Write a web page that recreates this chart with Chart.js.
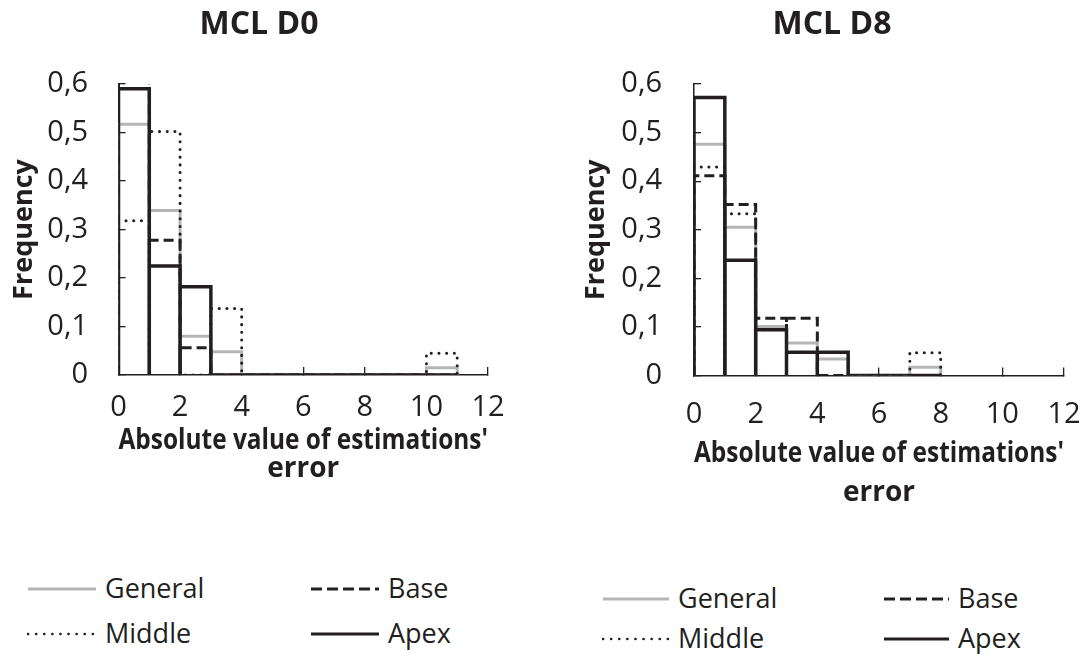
<!DOCTYPE html>
<html>
<head>
<meta charset="utf-8">
<script src="https://cdn.jsdelivr.net/npm/chart.js@4.4.1/dist/chart.umd.min.js"></script>
<style>
  body { margin: 0; background: #fff; font-family: "Open Sans", sans-serif; }
  #page { position: relative; width: 1089px; height: 654px; overflow: hidden; }
  canvas { position: absolute; top: 0; }
  .key { position: absolute; height: 40px; display: flex; align-items: center; font-size: 27px; color: #231f20; white-space: nowrap; }
  .key svg { display: block; }
  .key span { line-height: 27px; position: relative; top: -2px; margin-left: 8px; }
</style>
</head>
<body>
<div id="page">
  <canvas id="d0" width="518" height="483" style="left:0"></canvas>
  <canvas id="d8" width="514" height="512" style="left:575px"></canvas>
</div>
<script>
// ---- data: relative frequency per 1-unit bin of |estimation error| ----
const seriesNames = ['General', 'Base', 'Middle', 'Apex'];

// MCL D0, bins 0..10
const generalD0 = [0.517, 0.339, 0.080, 0.048, 0, 0, 0, 0, 0, 0, 0.015];
const baseD0    = [0.665, 0.278, 0.056, 0,     0, 0, 0, 0, 0, 0, 0];
const middleD0  = [0.318, 0.502, 0,     0.137, 0, 0, 0, 0, 0, 0, 0.045];
const apexD0    = [0.590, 0.225, 0.182, 0,     0, 0, 0, 0, 0, 0, 0];

// MCL D8, bins 0..7
const generalD8 = [0.476, 0.305, 0.101, 0.067, 0.034, 0, 0, 0.017];
const baseD8    = [0.411, 0.352, 0.118, 0.118, 0,     0, 0, 0];
const middleD8  = [0.429, 0.333, 0.094, 0.048, 0.048, 0, 0, 0.047];
const apexD8    = [0.572, 0.237, 0.094, 0.048, 0.048, 0, 0, 0];

const xTitle = ["Absolute value of estimations'", 'error'];
const yTitle = 'Frequency';

const GREY = '#b5b5b5';
const INK = '#231f20';

const seriesStyle = {
  General: { borderColor: GREY, borderWidth: 3, borderDash: [], order: 3, key: '' },
  Base:    { borderColor: INK, borderWidth: 3, borderDash: [10, 5], order: 2, key: '11 5' },
  Middle:  { borderColor: INK, borderWidth: 3, borderDash: [0.1, 7.6], borderCapStyle: 'round', order: 1, key: '0.1 8' },
  Apex:    { borderColor: INK, borderWidth: 3.5, borderDash: [], order: 0, key: '' }
};

// each bin drawn as an outlined bar: up, across, back down to zero
function stepPoints(values) {
  const pts = [];
  values.forEach((v, i) => {
    pts.push({x: i, y: 0}, {x: i, y: v}, {x: i + 1, y: v}, {x: i + 1, y: 0});
  });
  return pts;
}

function drawPanel(id, title, values, lay) {
  const datasets = seriesNames.map((name, k) => {
    const st = seriesStyle[name];
    return {
      label: name,
      data: stepPoints(values[k]),
      showLine: true,
      pointRadius: 0,
      pointHoverRadius: 0,
      fill: false,
      tension: 0,
      borderJoinStyle: 'miter',
      borderCapStyle: st.borderCapStyle || 'butt',
      borderColor: st.borderColor,
      borderWidth: st.borderWidth,
      borderDash: st.borderDash,
      order: st.order
    };
  });

  new Chart(document.getElementById(id), {
    type: 'scatter',
    data: { datasets: datasets },
    options: {
      responsive: false,
      animation: false,
      layout: { padding: 0 },
      plugins: {
        legend: { display: false },
        tooltip: { enabled: false },
        title: {
          display: true,
          text: title,
          color: INK,
          font: { family: 'Open Sans', size: 32, weight: 'bold' },
          padding: { top: lay.titleTop, bottom: lay.titleBottom }
        }
      },
      scales: {
        x: {
          type: 'linear',
          min: 0,
          max: 12,
          ticks: {
            stepSize: 2,
            maxRotation: 0,
            padding: lay.xTickPad,
            color: INK,
            font: { family: 'Open Sans', size: 29 }
          },
          grid: { drawOnChartArea: false, tickLength: -8, color: INK, lineWidth: 1.3 },
          border: { color: INK, width: 1.5 },
          title: {
            display: true,
            text: xTitle,
            color: INK,
            font: { family: 'Open Sans', size: 28, weight: 'bold', lineHeight: lay.xTitleLH },
            padding: { top: 0, bottom: 0 }
          },
          afterFit: s => { s.height = lay.xHeight; s.paddingRight = lay.rightGap; }
        },
        y: {
          min: 0,
          max: 0.6,
          ticks: {
            stepSize: 0.1,
            padding: lay.yTickPad,
            color: INK,
            font: { family: 'Open Sans', size: 29 },
            callback: v => v === 0 ? '0' : v.toFixed(1).replace('.', ',')
          },
          grid: { drawOnChartArea: false, tickLength: -7, color: INK, lineWidth: 1.3 },
          border: { color: INK, width: 1.5 },
          title: {
            display: true,
            text: yTitle,
            color: INK,
            font: { family: 'Open Sans', size: 27, weight: 'bold' },
            padding: { top: lay.yTitlePad, bottom: 0 }
          },
          afterFit: s => { s.width = lay.yWidth; }
        }
      }
    }
  });
}

// legend built as html, two columns by two rows
function drawKey(cols, rows) {
  const page = document.getElementById('page');
  const grid = [['General', 'Base'], ['Middle', 'Apex']];
  grid.forEach((row, r) => {
    row.forEach((name, c) => {
      const st = seriesStyle[name];
      const div = document.createElement('div');
      div.className = 'key';
      div.style.left = cols[c].line + 'px';
      div.style.top = (rows[r] - 20) + 'px';
      const w = cols[c].text - cols[c].line - 8;
      const sw = name === 'Middle' ? 2.6 : 3;
      div.innerHTML =
        '<svg width="' + w + '" height="8"><line x1="1" y1="4" x2="' + (w - 1) + '" y2="4" stroke="' + st.borderColor +
        '" stroke-width="' + sw + '"' + (st.key ? ' stroke-dasharray="' + st.key + '"' : '') +
        (name === 'Middle' ? ' stroke-linecap="round"' : '') + '/></svg>' +
        '<span>' + name + '</span>';
      page.appendChild(div);
    });
  });
}

drawPanel('d0', 'MCL D0', [generalD0, baseD0, middleD0, apexD0], {
  titleTop: 6, titleBottom: 39.6,
  yWidth: 118.5, yTickPad: 37.5, yTitlePad: 8.3,
  xHeight: 108, xTickPad: 23.6, xTitleLH: 1.0, rightGap: 30
});
drawPanel('d8', 'MCL D8', [generalD8, baseD8, middleD8, apexD8], {
  titleTop: 6, titleBottom: 39.6,
  yWidth: 119, yTickPad: 39, yTitlePad: 4.8,
  xHeight: 136.5, xTickPad: 29.6, xTitleLH: 1.39, rightGap: 25
});

drawKey([{line: 27, text: 105}, {line: 310, text: 388}], [589, 634]);
drawKey([{line: 602, text: 678}, {line: 883, text: 958}], [599, 639]);
</script>
</body>
</html>
